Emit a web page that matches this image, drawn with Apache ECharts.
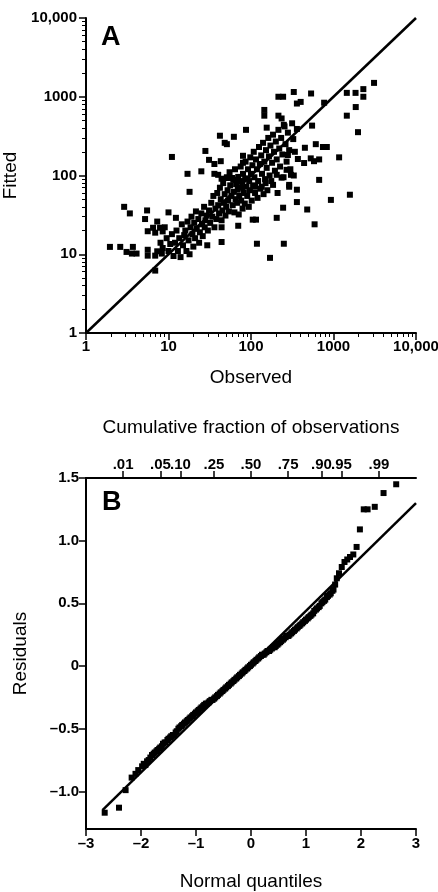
<!DOCTYPE html>
<html>
<head>
<meta charset="utf-8">
<script src="https://cdn.jsdelivr.net/npm/echarts@6/dist/echarts.min.js"></script>
<style>
    html, body { margin: 0; padding: 0; background: #fff; }
    #main { width: 438px; height: 892px; }
</style>
</head>
<body>
<div id="main"></div>
<script>
    // panel A : observed vs fitted (log-log)
    var observed = [
        3100, 2300, 2300, 1850, 1450, 1860, 1450, 1980, 1170, 770,
        535, 330, 215, 245, 400, 360, 145, 145, 215, 235,
        250, 155, 87, 550, 450, 610, 745, 830, 530, 580,
        670, 440, 370, 280, 270, 305, 330, 205, 235, 185,
        150, 135, 112, 670, 290,
        42, 62, 48, 51, 11, 28, 31, 36, 43, 80,
        80, 17, 25, 36, 40, 44, 51, 59, 67, 78,
        1580, 930, 360, 360, 290, 480, 245, 205, 590, 105,
        115, 118, 250, 170,
        2.9, 3.4, 5.5, 5.2, 10, 12.3, 18, 7.3, 6.5, 7.9,
        9, 8.5, 6.9, 5.6, 44, 70, 44, 1.95, 2.6, 3.1,
        3.7, 3.6, 4.1, 5.6, 5.6, 6.9, 7.3, 8.3, 6.9,
        8, 8.5, 9.5, 10, 10.5, 11, 11.5, 12, 12.5, 13,
        13.5, 14, 14.5, 15, 15.5, 16, 16.5, 17, 17.5, 18,
        18.5, 19, 19.5, 20, 20.5, 21, 21.5, 22, 23, 23.5,
        24, 25, 25.5, 26, 27, 27.5, 28, 29, 29.5, 30,
        31,
        32, 33, 34, 35, 36, 37, 38, 39, 40, 41,
        42, 43, 44, 45, 46, 47, 48, 49, 50, 51,
        52, 53, 54, 55, 56, 58, 60, 61, 62, 63,
        64, 65, 66, 68, 69, 70, 71, 72, 74, 75,
        76, 78, 79, 80, 82, 84, 85, 86, 88, 90,
        92, 94, 95, 97, 98, 100,
        102, 104, 106, 108, 110, 112, 115, 118, 120, 122,
        125, 128, 130, 133, 136, 140, 142, 145, 148, 152,
        155, 158, 162, 165, 168, 172, 176, 180, 185, 190,
        195, 200, 205, 210, 215, 220, 225, 232, 240, 248,
        255, 262, 270, 280, 290, 300, 315, 325, 340, 360
    ];
    var fitted = [
        1500, 1250, 1000, 1120, 1120, 740, 575, 355, 170, 840,
        1100, 1150, 1000, 1000, 860, 820, 680, 575, 575, 530,
        440, 405, 380, 430, 225, 250, 230, 230, 165, 152,
        160, 144, 162, 182, 118, 102, 100, 102, 94, 76,
        80, 72, 72, 88, 76,
        320, 310, 260, 250, 172, 205, 158, 140, 152, 178,
        145, 105, 113, 105, 102, 91, 93, 93, 88, 83,
        57, 49, 66, 46, 72, 37, 39, 29, 24, 27.5,
        27.5, 13.6, 13.6, 9,
        40, 33, 36, 28, 34, 29, 62, 26, 21.7, 21.7,
        22, 19.5, 18.8, 19.6, 22, 23, 14.3, 12.4, 12.4, 10.7,
        12.4, 10.2, 10.2, 11.4, 9.6, 9.6, 10.9, 10.2, 6.2,
        14, 12, 16, 11, 13.5, 18, 9.5, 14, 20, 11,
        16, 9.2, 24, 13, 17.5, 20, 11, 26, 15, 10,
        22, 30, 18, 12.5, 25, 16, 35, 21, 28, 14,
        19, 33, 24, 17, 40, 22, 27, 31, 13, 20,
        36,
        25, 45, 30, 55, 22, 38, 28, 60, 42, 33,
        70, 50, 27, 36, 80, 45, 58, 31, 40, 95,
        65, 48, 35, 110, 75, 55, 42, 88, 62, 34,
        120, 50, 78, 45, 66, 96, 32, 55, 85, 130,
        48, 70, 38, 105, 60, 44, 92, 150, 72, 55,
        120, 40, 85, 65, 170, 105,
        48, 135, 75, 200, 95, 60, 160, 120, 52, 85,
        230, 140, 68, 180, 105, 260, 58, 150, 90, 210,
        125, 65, 300, 175, 100, 240, 85, 145, 330, 200,
        115, 270, 160, 60, 380, 220, 130, 300, 185, 95,
        420, 250, 150, 350, 210, 120, 460, 290, 200, 390
    ];
    var logTickLabels = ['1', '10', '100', '1000', '10,000'];
    var lineA = [[1, 1], [10000, 10000]];

    // panel B : residuals vs normal quantiles
    var normalQuantiles = [
        -2.66, -2.40, -2.28, -2.17, -2.10, -2.05, -1.98, -1.92, -1.86, -1.80,
        -1.75, -1.70, -1.65, -1.60, -1.55, -1.50, -1.45, -1.40, -1.35, -1.30,
        -1.25, -1.20, -1.15, -1.10, -1.05, -1.00, -0.95, -0.90, -0.85, -0.80,
        -0.75, -0.70, -0.65, -0.60, -0.55, -0.50, -0.45, -0.40, -0.35, -0.30,
        -0.25, -0.20, -0.15, -0.10, -0.05, 0.00, 0.05, 0.10, 0.15, 0.20,
        0.25, 0.30, 0.35, 0.40, 0.45, 0.50, 0.55, 0.60, 0.65, 0.70,
        0.75, 0.80, 0.85, 0.90, 0.95, 1.00, 1.05, 1.10, 1.15, 1.20,
        1.25, 1.30, 1.35, 1.40, 1.45, 1.50, 1.56, 1.60, 1.65, 1.70,
        1.75, 1.80, 1.86, 1.92, 1.98, 2.05, 2.12, 2.25, 2.41, 2.64,
        // second pass along the dense band
        -1.95, -1.89, -1.83, -1.77, -1.72, -1.67, -1.62, -1.57, -1.52, -1.47,
        -1.42, -1.37, -1.32, -1.27, -1.22, -1.17, -1.12, -1.07, -1.02, -0.97,
        -0.92, -0.87, -0.82, -0.77, -0.72, -0.67, -0.62, -0.57, -0.52, -0.47,
        -0.42, -0.37, -0.32, -0.27, -0.22, -0.17, -0.12, -0.07, -0.02, 0.03,
        0.08, 0.13, 0.18, 0.23, 0.28, 0.33, 0.38, 0.43, 0.48, 0.53,
        0.58, 0.63, 0.68, 0.73, 0.78, 0.83, 0.88, 0.93, 0.98, 1.03,
        1.08, 1.13, 1.18, 1.23, 1.28, 1.33, 1.38, 1.43, 1.48, 1.53
    ];
    var residuals = [
        -1.17, -1.13, -0.99, -0.89, -0.86, -0.83, -0.80, -0.79, -0.75, -0.71,
        -0.69, -0.67, -0.65, -0.62, -0.61, -0.58, -0.56, -0.55, -0.52, -0.49,
        -0.47, -0.45, -0.43, -0.41, -0.39, -0.37, -0.35, -0.33, -0.31, -0.30,
        -0.28, -0.27, -0.25, -0.23, -0.21, -0.19, -0.17, -0.15, -0.13, -0.11,
        -0.09, -0.07, -0.05, -0.03, -0.01, 0.01, 0.03, 0.05, 0.07, 0.09,
        0.10, 0.12, 0.13, 0.15, 0.16, 0.18, 0.20, 0.22, 0.24, 0.25,
        0.27, 0.29, 0.31, 0.33, 0.35, 0.37, 0.39, 0.41, 0.44, 0.46,
        0.48, 0.51, 0.53, 0.56, 0.58, 0.61, 0.70, 0.74, 0.79, 0.83,
        0.85, 0.87, 0.89, 0.95, 1.09, 1.25, 1.25, 1.27, 1.38, 1.45,
        -0.78, -0.76, -0.73, -0.70, -0.68, -0.66, -0.64, -0.61, -0.59, -0.57,
        -0.55, -0.53, -0.50, -0.48, -0.46, -0.44, -0.42, -0.40, -0.38, -0.36,
        -0.34, -0.32, -0.30, -0.29, -0.27, -0.26, -0.24, -0.22, -0.20, -0.18,
        -0.16, -0.14, -0.12, -0.10, -0.08, -0.06, -0.04, -0.02, 0.00, 0.02,
        0.04, 0.06, 0.08, 0.09, 0.11, 0.12, 0.14, 0.15, 0.17, 0.19,
        0.21, 0.23, 0.24, 0.26, 0.28, 0.30, 0.32, 0.34, 0.36, 0.38,
        0.40, 0.42, 0.45, 0.47, 0.50, 0.52, 0.55, 0.57, 0.60, 0.65
    ];
    var lineB = [[-2.7, -1.15], [3, 1.30]];
    var quantileTickLabels = ['\u20133', '\u20132', '\u20131', '0', '1', '2', '3'];
    var residualTicks = [-1, -0.5, 0, 0.5, 1, 1.5];
    var residualTickLabels = ['\u20131.0', '\u20130.5', '0', '0.5', '1.0', '1.5'];
    var fractionLabels = ['.01', '.05', '.10', '.25', '.50', '.75', '.90', '.95', '.99'];
    var fractionQuantiles = [-2.326, -1.645, -1.282, -0.674, 0, 0.674, 1.282, 1.645, 2.326];

    var FONT = 'Liberation Sans';
    var tickFont = { color: '#000', fontFamily: FONT, fontWeight: 'bold', fontSize: 15 };
    var nameFont = { color: '#000', fontFamily: FONT, fontSize: 19 };
    var axisLine = { show: true, onZero: false, lineStyle: { color: '#000', width: 2 } };

    // minor log ticks (2..9 in each decade), drawn on a helper axis in log10 units
    var minorLog = [];
    for (var d = 0; d < 4; d++) {
        for (var k = 2; k <= 9; k++) {
            minorLog.push(Math.log10(k * Math.pow(10, d)));
        }
    }

    function zip(a, b) {
        var out = [];
        for (var i = 0; i < a.length; i++) out.push([a[i], b[i]]);
        return out;
    }

    function minorAxis(pos) {
        return {
            type: 'value', gridIndex: 0, position: pos, min: 0, max: 4,
            axisLine: { show: false, onZero: false },
            axisLabel: { show: false },
            splitLine: { show: false },
            axisTick: { show: true, length: 4, customValues: minorLog, lineStyle: { color: '#000', width: 1 } }
        };
    }

    var myChart = echarts.init(document.getElementById('main'));

    var option = {
        backgroundColor: '#fff',
        animation: false,
        grid: [
            { left: 86, top: 18, width: 330, height: 315, outerBoundsMode: 'none' },
            { left: 86, top: 478, width: 330, height: 351, outerBoundsMode: 'none' }
        ],
        graphic: [
            { type: 'text', left: 101, top: 24, style: { text: 'A', font: 'bold 27px "Liberation Sans"', fill: '#000' } },
            { type: 'text', left: 102, top: 489, style: { text: 'B', font: 'bold 27px "Liberation Sans"', fill: '#000' } }
        ],
        xAxis: [
            {
                type: 'log', logBase: 10, gridIndex: 0, min: 1, max: 10000,
                name: 'Observed', nameLocation: 'middle', nameGap: 35, nameTextStyle: nameFont,
                axisLine: axisLine,
                axisTick: { show: true, length: 7, lineStyle: { color: '#000', width: 1.5 } },
                axisLabel: Object.assign({ margin: 6, formatter: function (v) { return logTickLabels[Math.round(Math.log10(v))]; } }, tickFont),
                splitLine: { show: false }
            },
            minorAxis('bottom'),
            {
                type: 'value', gridIndex: 1, position: 'bottom', min: -3, max: 3, interval: 1,
                name: 'Normal quantiles', nameLocation: 'middle', nameGap: 43, nameTextStyle: nameFont,
                axisLine: axisLine,
                axisTick: { show: true, length: 7, lineStyle: { color: '#000', width: 1.5 } },
                axisLabel: Object.assign({ margin: 7, formatter: function (v) { return quantileTickLabels[Math.round(v) + 3]; } }, tickFont),
                splitLine: { show: false }
            },
            {
                type: 'value', gridIndex: 1, position: 'top', min: -3, max: 3,
                name: 'Cumulative fraction of observations', nameLocation: 'middle', nameGap: 41, nameTextStyle: nameFont,
                axisLine: axisLine,
                axisTick: { show: true, length: 7, customValues: fractionQuantiles, lineStyle: { color: '#000', width: 1.5 } },
                axisLabel: Object.assign({
                    margin: 6, customValues: fractionQuantiles,
                    formatter: function (v) {
                        var best = 0;
                        for (var i = 1; i < fractionQuantiles.length; i++) {
                            if (Math.abs(fractionQuantiles[i] - v) < Math.abs(fractionQuantiles[best] - v)) best = i;
                        }
                        return fractionLabels[best];
                    }
                }, tickFont),
                splitLine: { show: false }
            }
        ],
        yAxis: [
            {
                type: 'log', logBase: 10, gridIndex: 0, min: 1, max: 10000,
                name: 'Fitted', nameLocation: 'middle', nameGap: 56, nameTextStyle: nameFont,
                axisLine: axisLine,
                axisTick: { show: true, length: 7, lineStyle: { color: '#000', width: 1.5 } },
                axisLabel: Object.assign({ margin: 9, formatter: function (v) { return logTickLabels[Math.round(Math.log10(v))]; } }, tickFont),
                splitLine: { show: false }
            },
            minorAxis('left'),
            {
                type: 'value', gridIndex: 1, position: 'left', min: -1.3, max: 1.5,
                name: 'Residuals', nameLocation: 'middle', nameGap: 56, nameTextStyle: nameFont,
                axisLine: axisLine,
                axisTick: { show: true, length: 7, customValues: residualTicks, lineStyle: { color: '#000', width: 1.5 } },
                axisLabel: Object.assign({
                    margin: 7, customValues: residualTicks,
                    formatter: function (v) { return residualTickLabels[residualTicks.indexOf(v)]; }
                }, tickFont),
                splitLine: { show: false }
            }
        ],
        series: [
            {
                type: 'scatter', xAxisIndex: 0, yAxisIndex: 0,
                symbol: 'rect', symbolSize: 6,
                itemStyle: { color: '#000', opacity: 1 },
                data: zip(observed, fitted)
            },
            {
                type: 'line', xAxisIndex: 0, yAxisIndex: 0,
                showSymbol: false, symbol: 'none',
                lineStyle: { color: '#000', width: 2.5 },
                data: lineA
            },
            {
                type: 'scatter', xAxisIndex: 2, yAxisIndex: 2,
                symbol: 'rect', symbolSize: 6,
                itemStyle: { color: '#000', opacity: 1 },
                data: zip(normalQuantiles, residuals)
            },
            {
                type: 'line', xAxisIndex: 2, yAxisIndex: 2,
                showSymbol: false, symbol: 'none',
                lineStyle: { color: '#000', width: 2.5 },
                data: lineB
            }
        ]
    };

    myChart.setOption(option);
</script>
</body>
</html>
